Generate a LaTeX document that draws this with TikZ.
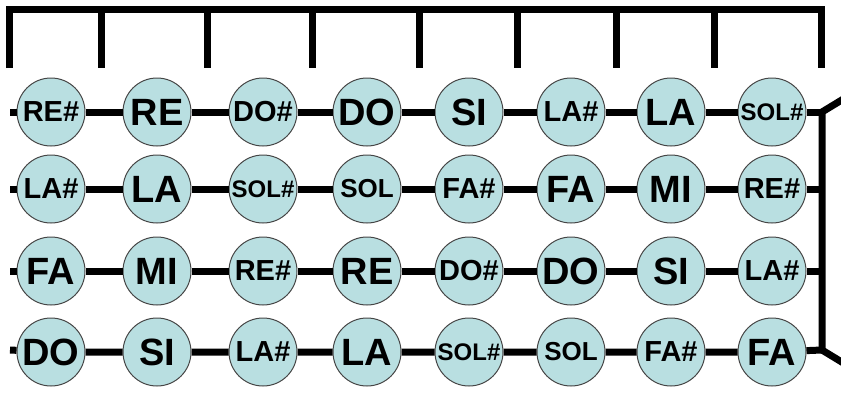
\documentclass[tikz,border=0pt]{standalone}
\usepackage{fontspec}
\setmainfont{Liberation Sans}
\usepackage{tikz}
\usetikzlibrary{positioning}
\usepackage{color}
\definecolor{NoteFill}{RGB}{185,223,225}
\definecolor{NoteEdge}{RGB}{70,70,70}

\begin{document}
\begin{tikzpicture}[x=1pt, y=-1pt,
	note/.style={circle, minimum size=68pt, inner sep=0pt, fill=NoteFill, draw=NoteEdge, line width=1pt, font=\bfseries},
	big/.style={note, font=\fontsize{38}{40}\selectfont\bfseries},
	mid/.style={note, font=\fontsize{29}{31}\selectfont\bfseries},
	sol/.style={note, font=\fontsize{26}{28}\selectfont\bfseries},
	small/.style={note, font=\fontsize{24}{26}\selectfont\bfseries},
	bar/.style={draw, line width=7pt, line join=miter},
	wire/.style={draw, line width=7pt}]
	
	\useasboundingbox (0,0) rectangle (841,394);
	
	% Top bracket
	\coordinate (t0) at (9,68);
	\coordinate (t1) at (101,68);
	\coordinate (t2) at (207,68);
	\coordinate (t3) at (312,68);
	\coordinate (t4) at (419,68);
	\coordinate (t5) at (517,68);
	\coordinate (t6) at (616,68);
	\coordinate (t7) at (714,68);
	\coordinate (t8) at (821,68);
	\coordinate (top) at (0,9);
	
	\path[bar] (t0) -- (t0 |- top) -- (t8 |- top) -- (t8);
	\path[bar] (t1 |- top) -- (t1);
	\path[bar] (t2 |- top) -- (t2);
	\path[bar] (t3 |- top) -- (t3);
	\path[bar] (t4 |- top) -- (t4);
	\path[bar] (t5 |- top) -- (t5);
	\path[bar] (t6 |- top) -- (t6);
	\path[bar] (t7 |- top) -- (t7);
	
	% Right bracket
	\coordinate (r1) at (822,112);
	\coordinate (r2) at (822,189);
	\coordinate (r3) at (822,271);
	\coordinate (r4) at (822,350);
	\coordinate (u) at (845,98);
	\coordinate (d) at (845,364);
	\path[bar] (u) -- (r1) -- (r4) -- (d);
	
	% Left ends
	\coordinate (l1) at (10,112);
	\coordinate (l2) at (10,189);
	\coordinate (l3) at (10,271);
	\coordinate (l4) at (10,350);
	
	% Row 1
	\node[mid] (a1) at (51,112) {RE\#};
	\node[big] (a2) at (157,112) {RE};
	\node[mid] (a3) at (263,112) {DO\#};
	\node[big] (a4) at (367,112) {DO};
	\node[big] (a5) at (469,112) {SI};
	\node[mid] (a6) at (571,112) {LA\#};
	\node[big] (a7) at (671,112) {LA};
	\node[small] (a8) at (772,112) {SOL\#};
	% Row 2
	\node[mid] (b1) at (51,189) {LA\#};
	\node[big] (b2) at (157,189) {LA};
	\node[small] (b3) at (263,189) {SOL\#};
	\node[sol] (b4) at (367,189) {SOL};
	\node[mid] (b5) at (469,189) {FA\#};
	\node[big] (b6) at (571,189) {FA};
	\node[big] (b7) at (671,189) {MI};
	\node[mid] (b8) at (772,189) {RE\#};
	% Row 3
	\node[big] (c1) at (51,271) {FA};
	\node[big] (c2) at (157,271) {MI};
	\node[mid] (c3) at (263,271) {RE\#};
	\node[big] (c4) at (367,271) {RE};
	\node[mid] (c5) at (469,271) {DO\#};
	\node[big] (c6) at (571,271) {DO};
	\node[big] (c7) at (671,271) {SI};
	\node[mid] (c8) at (772,271) {LA\#};
	% Row 4
	\node[big] (d1) at (51,352) {DO};
	\node[big] (d2) at (157,352) {SI};
	\node[mid] (d3) at (263,352) {LA\#};
	\node[big] (d4) at (367,352) {LA};
	\node[small] (d5) at (469,352) {SOL\#};
	\node[sol] (d6) at (571,352) {SOL};
	\node[mid] (d7) at (671,352) {FA\#};
	\node[big] (d8) at (772,352) {FA};
	
	% Strings
	\path[wire] (l1) -- (a1) -- (a2) -- (a3) -- (a4) -- (a5) -- (a6) -- (a7) -- (a8) -- (r1);
	\path[wire] (l2) -- (b1) -- (b2) -- (b3) -- (b4) -- (b5) -- (b6) -- (b7) -- (b8) -- (r2);
	\path[wire] (l3) -- (c1) -- (c2) -- (c3) -- (c4) -- (c5) -- (c6) -- (c7) -- (c8) -- (r3);
	\path[wire] (l4) -- (d1) -- (d2) -- (d3) -- (d4) -- (d5) -- (d6) -- (d7) -- (d8) -- (r4);
	
\end{tikzpicture}
\end{document}
